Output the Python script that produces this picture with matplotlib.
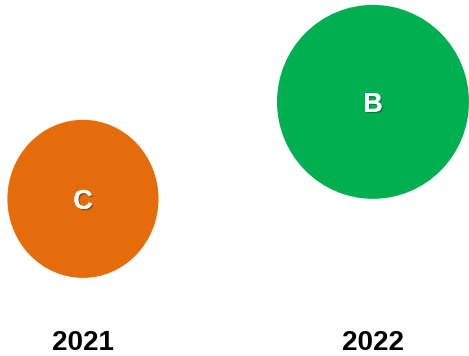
import matplotlib.pyplot as plt
from matplotlib.patches import Ellipse
from matplotlib.transforms import blended_transform_factory
import matplotlib.patheffects as pe

plt.rcParams['font.family'] = ['Liberation Sans', 'DejaVu Sans']

years = ["2021", "2022"]
labels = ["C", "B"]
values = [3.0, 5.0]
bubble_w = [0.521, 0.662]   # width in x units
bubble_h = [3.26, 4.0]      # height in y units
colors = ["#E46C0A", "#00B050"]

fig = plt.figure(figsize=(4.69, 3.56), dpi=100)
ax = fig.add_axes([0, 0, 1, 1])
ax.set_xlim(-0.286, 1.331)
ax.set_ylim(-0.24, 7.10)
ax.axis('off')

for i, (lab, v) in enumerate(zip(labels, values)):
    ax.add_patch(Ellipse((i, v), bubble_w[i], bubble_h[i], facecolor=colors[i], edgecolor='none'))
    t = ax.text(i, v - 0.06, lab, ha='center', va='center', color='white',
                fontsize=19.5, fontweight='bold')
    # soft drop shadow under the letters
    t.set_path_effects([pe.withSimplePatchShadow(offset=(1, -1), shadow_rgbFace='#333333', alpha=0.5),
                        pe.Normal()])

trans = blended_transform_factory(ax.transData, ax.transAxes)
for i, yr in enumerate(years):
    ax.text(i, 0.037, yr, transform=trans, ha='center', va='center',
            fontsize=20, fontweight='bold', color='black')

fig.savefig("out.png", dpi=100)
